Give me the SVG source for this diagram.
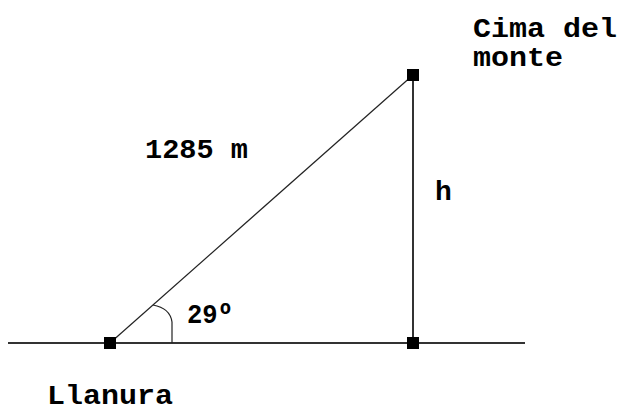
<svg xmlns="http://www.w3.org/2000/svg" width="621" height="412" viewBox="0 0 621 412">
<style>
.ln{stroke:#333;stroke-width:2;fill:none}
.thin{stroke:#222;stroke-width:1.2;fill:none}
.pt{fill:#000}
text{font-family:"Liberation Mono","Courier New",monospace;font-size:28px;font-weight:bold;fill:#000}
</style>
<rect width="621" height="412" fill="#fff"/>
<g id="connectors">
<line class="ln" x1="8" y1="343" x2="525" y2="343"/>
<line class="thin" x1="110" y1="343" x2="413" y2="75"/>
<line class="ln" x1="413" y1="75" x2="413" y2="343"/>
<path class="thin" d="M153,305 Q170,308 172,322 L172,343"/>
</g>
<g id="plain"><rect class="pt" x="104" y="337" width="12" height="12"/><text x="47" y="404" textLength="126" lengthAdjust="spacingAndGlyphs">Llanura</text></g>
<g id="base"><rect class="pt" x="407" y="337" width="12" height="12"/></g>
<g id="top"><rect class="pt" x="407" y="69" width="12" height="12"/><text x="473" y="37" textLength="144" lengthAdjust="spacingAndGlyphs">Cima del</text><text x="473" y="66" textLength="90" lengthAdjust="spacingAndGlyphs">monte</text></g>
<g id="labels">
<text x="145" y="158" textLength="103" lengthAdjust="spacingAndGlyphs">1285 m</text>
<text x="435" y="200">h</text>
<text x="187" y="323" textLength="46" lengthAdjust="spacingAndGlyphs">29º</text>
</g>
</svg>
